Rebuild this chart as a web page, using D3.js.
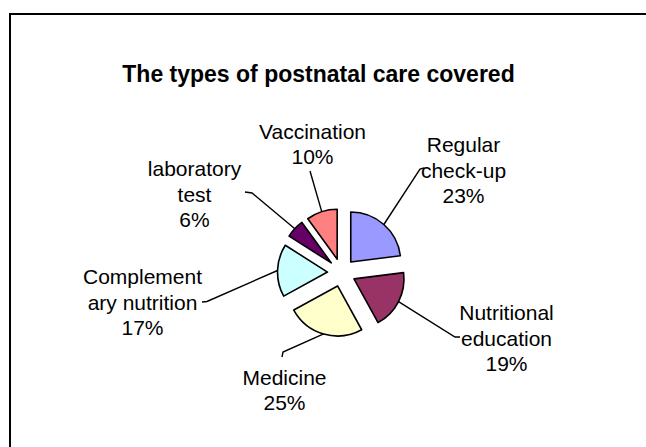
<!DOCTYPE html>
<html>
<head>
<meta charset="utf-8">
<script src="https://cdn.jsdelivr.net/npm/d3@7"></script>
<style>
  html, body { margin: 0; padding: 0; background: #fff; }
  svg { display: block; font-family: "Liberation Sans", Arial, sans-serif; }
</style>
</head>
<body>
<div id="chart"></div>
<script>
// categories as they are wrapped on the chart
var categories = ["Regular\ncheck-up", "Nutritional\neducation", "Medicine", "Complement\nary nutrition", "laboratory\ntest", "Vaccination"]
var shares = [23, 19, 25, 17, 6, 10]
var colors = ["#9999FF", "#993366", "#FFFFCC", "#CCFFFF", "#660066", "#FF8080"]

// label centres and leader elbows, relative to the pie centre
var labelAt = [[122, -102], [165, 66], [-57, 118], [-199, 30], [-147, -78], [-29, -128]]
var elbowAt = [[[78.5, -103.5], [82.5, -104.5]], [[113.5, 64.5], [118.5, 64.5]], [[-58.5, 79.5], [-59.5, 84.5]],
               [[-134.5, 29], [-139.5, 29.5]], [[-89.5, -79.5], [-96.5, -80.5]], [[-31.5, -101.5], [-31.5, -101.5]]]

var width = 646, height = 447
var cx = 341.5, cy = 272.5, r = 50, explode = 14

var svg = d3.select("#chart").append("svg")
    .attr("width", width)
    .attr("height", height)

svg.append("rect")
    .attr("x", 10)
    .attr("y", 14)
    .attr("width", 700)
    .attr("height", 500)
    .attr("fill", "none")
    .attr("stroke", "#000")
    .attr("stroke-width", 2)

svg.append("text")
    .attr("x", 318.5)
    .attr("y", 82)
    .attr("text-anchor", "middle")
    .style("font-weight", "bold")
    .style("font-size", "23px")
    .text("The types of postnatal care covered")

var pie = d3.pie().sort(null).value(d => d)
var arcs = pie(shares)
var arc = d3.arc().innerRadius(0).outerRadius(r)
var rim = d3.arc().innerRadius(r).outerRadius(r)
var shift = d3.arc().innerRadius(explode).outerRadius(explode)

var g = svg.append("g").attr("transform", "translate(" + cx + "," + cy + ")")

var slice = g.selectAll(".slice")
    .data(arcs)
    .enter()
    .append("g")
    .attr("class", "slice")

slice.append("path")
    .attr("transform", d => "translate(" + shift.centroid(d) + ")")
    .attr("d", arc)
    .attr("fill", (d, i) => colors[i])
    .attr("stroke", "#000")
    .attr("stroke-width", 1.6)
    .attr("stroke-linejoin", "round")

slice.append("polyline")
    .attr("points", (d, i) => {
        var s = shift.centroid(d), p = rim.centroid(d)
        var a = [s[0] + p[0], s[1] + p[1]]
        return [a, elbowAt[i][0], elbowAt[i][1]].map(q => q.join(",")).join(" ")
    })
    .attr("fill", "none")
    .attr("stroke", "#000")
    .attr("stroke-width", 1.4)

var lineH = 25.5
slice.append("text")
    .attr("text-anchor", "middle")
    .style("font-size", "21px")
    .each(function(d, i) {
        var lines = categories[i].split("\n").concat([d.data + "%"])
        var top = labelAt[i][1] - (lines.length - 1) * lineH / 2 + 7
        d3.select(this).selectAll("tspan")
            .data(lines)
            .enter()
            .append("tspan")
            .attr("x", labelAt[i][0])
            .attr("y", (t, k) => top + k * lineH)
            .text(t => t)
    })
</script>
</body>
</html>
